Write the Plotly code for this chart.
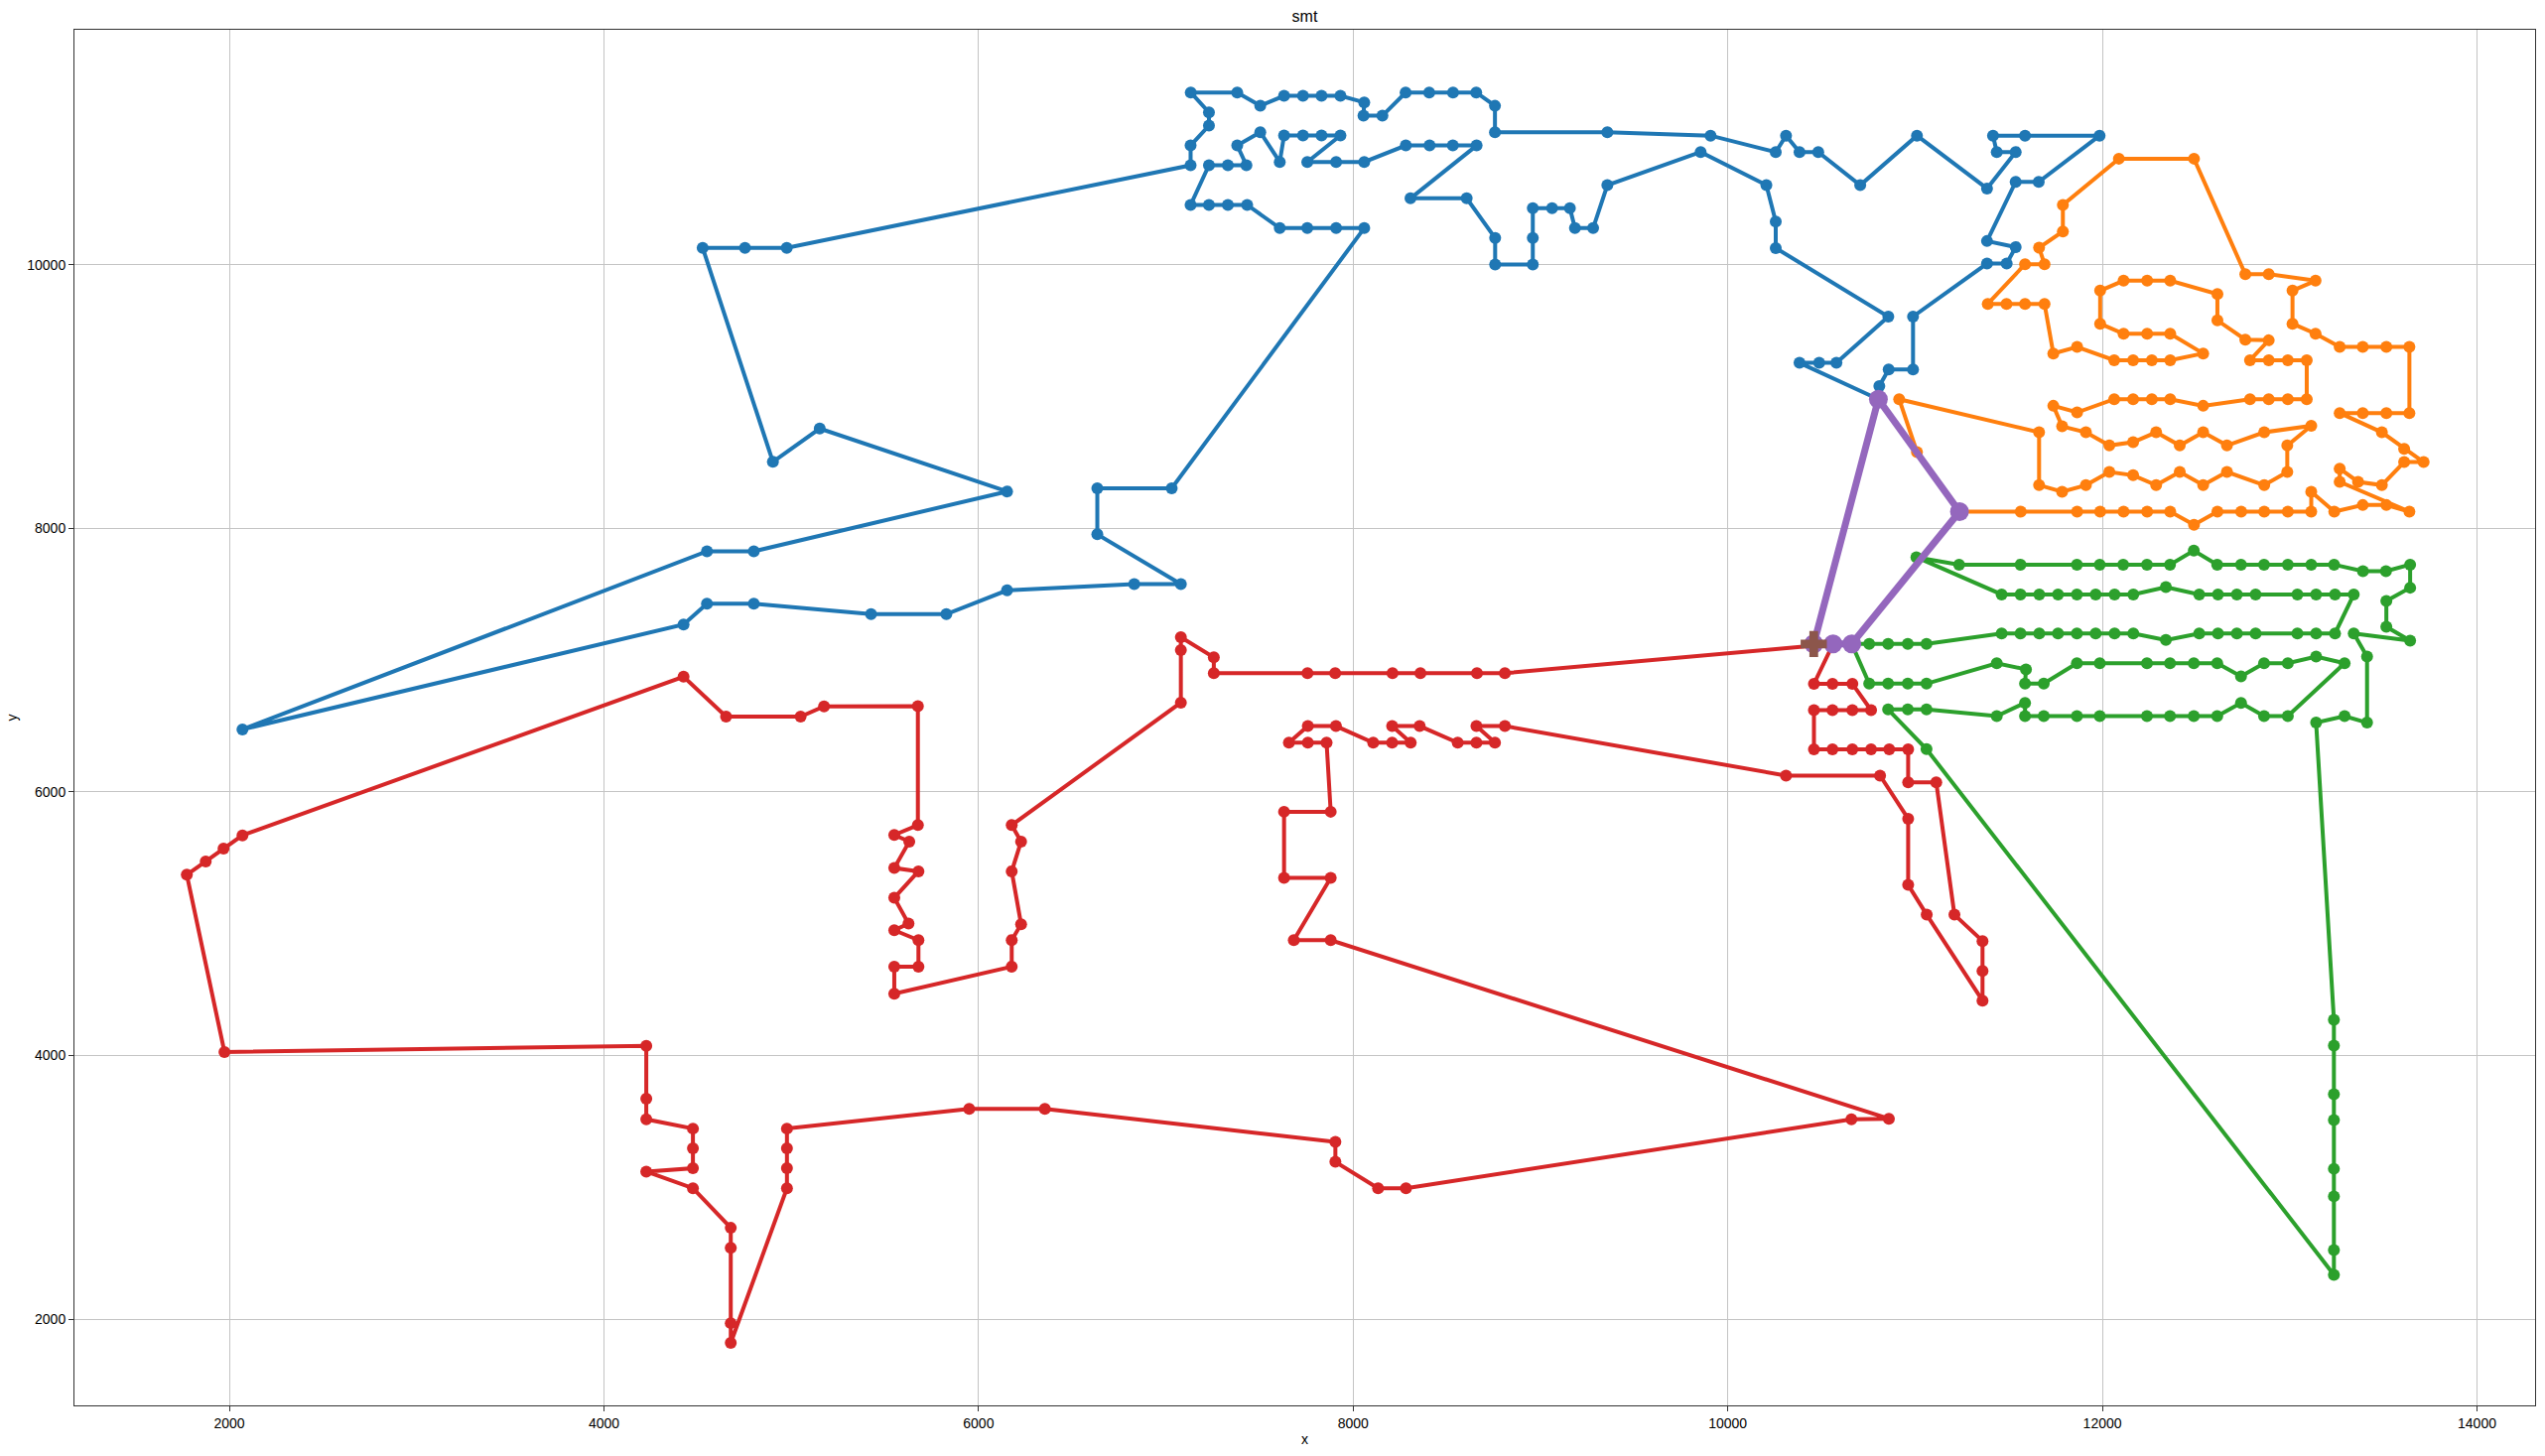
import plotly.graph_objects as go

# ---- data ----
blue_x = [10804, 10809, 10859, 10989, 10989, 11384, 11489, 11537, 11384, 11537, 11660, 11985, 11587, 11416, 11436, 11537,
          11384, 11010, 10707, 10483, 10383, 10311, 10256, 9908, 9357, 8757, 8757, 8657, 8533, 8406, 8280, 8156, 8055, 8059,
          7932, 7831, 7732, 7631, 7504, 7381, 7133, 7230, 7230, 7132, 7132, 4976, 4753, 4527, 4902, 5152, 6152, 4800, 4550,
          2070, 4425, 4550, 4800, 5426, 5828, 6152, 6831, 7080, 6634, 6634, 7031, 8059, 7909, 7755, 7608, 7434, 7331, 7230,
          7132, 7230, 7331, 7430, 7381, 7504, 7608, 7631, 7732, 7831, 7932, 7755, 7909, 8059, 8281, 8408, 8532, 8659, 8306,
          8606, 8758, 8758, 8959, 8959, 8959, 9062, 9157, 9184, 9281, 9357, 9855, 10206, 10256, 10256, 10857, 10580, 10488,
          10383, 10804]
blue_y = [8979, 9079, 9205, 9205, 9606, 10008, 10008, 10133, 10179, 10628, 10628, 10979, 10979, 10979, 10854, 10854,
          10578, 10979, 10603, 10854, 10854, 10979, 10854, 10979, 11004, 11004, 11205, 11306, 11306, 11306, 11306, 11130,
          11130, 11231, 11281, 11281, 11281, 11281, 11206, 11306, 11306, 11155, 11055, 10904, 10754, 10128, 10128, 10128,
          8504, 8756, 8279, 7825, 7825, 6474, 7270, 7428, 7428, 7348, 7348, 7529, 7577, 7577, 7954, 8303, 8303, 10277,
          10277, 10277, 10277, 10453, 10453, 10453, 10453, 10754, 10754, 10754, 10904, 11005, 10779, 10980, 10980, 10980,
          10980, 10779, 10779, 10779, 10904, 10904, 10904, 10904, 10503, 10503, 10202, 10001, 10001, 10202, 10428, 10428,
          10428, 10277, 10277, 10603, 10854, 10603, 10327, 10126, 9606, 9255, 9255, 9255, 8979]

orange_x = [11237, 11010, 10915, 11662, 11662, 11785, 11912, 12037, 12164, 12287, 12413, 12538, 12665, 12864, 12987,
            12987, 13115, 12864, 12665, 12538, 12413, 12287, 12164, 12037, 11912, 11785, 11738, 11865, 12063, 12164,
            12264, 12362, 12538, 12788, 12888, 12990, 13091, 13091, 12990, 12888, 12788, 12888, 12763, 12614, 12614,
            12362, 12239, 12113, 11988, 11988, 12113, 12239, 12362, 12538, 12362, 12264, 12164, 12063, 11865, 11738,
            11691, 11587, 11488, 11388, 11587, 11691, 11662, 11789, 11789, 12088, 12489, 12763, 12888, 13138, 13015,
            13015, 13138, 13267, 13390, 13516, 13639, 13639, 13516, 13390, 13267, 13492, 13611, 13715, 13611, 13492,
            13365, 13267, 13267, 13639, 13516, 13390, 13238, 13115, 13115, 12990, 12864, 12741, 12614, 12489, 12362,
            12239, 12113, 11988, 11865, 11564, 11237]
orange_y = [8126, 8578, 8979, 8728, 8327, 8277, 8327, 8427, 8402, 8327, 8427, 8327, 8427, 8327, 8427,
            8628, 8778, 8728, 8628, 8728, 8628, 8728, 8653, 8628, 8728, 8773, 8929, 8879, 8979, 8979,
            8979, 8979, 8929, 8979, 8979, 8979, 8979, 9275, 9275, 9275, 9275, 9426, 9431, 9577, 9777,
            9878, 9878, 9878, 9803, 9552, 9476, 9476, 9476, 9326, 9275, 9275, 9275, 9275, 9376, 9326,
            9702, 9702, 9702, 9702, 10003, 10003, 10129, 10252, 10453, 10804, 10804, 9928, 9928, 9878, 9803,
            9552, 9476, 9376, 9376, 9376, 9376, 8874, 8874, 8874, 8874, 8728, 8603, 8502, 8502, 8327,
            8352, 8452, 8352, 8126, 8176, 8176, 8126, 8277, 8126, 8126, 8126, 8126, 8126, 8026, 8126,
            8126, 8126, 8126, 8126, 8126, 8126]

green_x = [10662, 10755, 10856, 10961, 11061, 11462, 11563, 11663, 11763, 11864, 11964, 12065, 12165, 12339, 12517,
           12617, 12718, 12818, 13041, 13141, 13242, 13342, 13242, 13141, 13041, 12818, 12718, 12617, 12517, 12339,
           12165, 12065, 11964, 11864, 11763, 11663, 11563, 11462, 11007, 11235, 11563, 11864, 11986, 12111, 12238,
           12361, 12488, 12613, 12740, 12863, 12990, 13115, 13237, 13391, 13514, 13643, 13643, 13516, 13516, 13643,
           13342, 13413, 13413, 13293, 13141, 13236, 13236, 13236, 13236, 13236, 13236, 13236, 13236, 11061, 10856,
           10961, 11061, 11436, 11587, 11587, 11687, 11864, 11986, 12238, 12361, 12488, 12613, 12740, 12863, 12990,
           13293, 13141, 12990, 12863, 12740, 12613, 12488, 12361, 12238, 11986, 11864, 11687, 11587, 11592, 11436,
           11061, 10961, 10856, 10755, 10662]
green_y = [7122, 7122, 7122, 7122, 7122, 7202, 7202, 7202, 7202, 7202, 7202, 7202, 7202, 7152, 7202,
           7202, 7202, 7202, 7202, 7202, 7202, 7498, 7498, 7498, 7498, 7498, 7498, 7498, 7498, 7554,
           7498, 7498, 7498, 7498, 7498, 7498, 7498, 7498, 7780, 7724, 7724, 7724, 7724, 7724, 7724,
           7724, 7830, 7724, 7724, 7724, 7724, 7724, 7724, 7674, 7674, 7724, 7549, 7448, 7252, 7147,
           7202, 7027, 6525, 6575, 6525, 4271, 4074, 3705, 3510, 3140, 2931, 2524, 2336, 6324, 6625,
           6625, 6625, 6575, 6675, 6575, 6575, 6575, 6575, 6575, 6575, 6575, 6575, 6675, 6575, 6575,
           6976, 7027, 6976, 6976, 6876, 6976, 6976, 6976, 6976, 6976, 6976, 6821, 6821, 6929, 6976,
           6821, 6821, 6821, 6821, 7122]

red_x = [10562, 10460, 10559, 10665, 10765, 10665, 10559, 10460, 10460, 10559, 10665, 10765, 10862, 10963, 10963,
         11113, 11210, 11360, 11360, 11360, 11062, 10963, 10963, 10813, 10311, 8810, 8658, 8757, 8658, 8558, 8355,
         8208, 8307, 8208, 8107, 7908, 7758, 7657, 7758, 7858, 7880, 7631, 7631, 7880, 7683, 7880, 10860, 10660,
         8282, 8133, 7905, 7905, 6354, 5950, 4977, 4977, 4977, 4977, 4677, 4677, 4677, 4677, 4475, 4226, 4475,
         4475, 4475, 4226, 4226, 4226, 1974, 1773, 1874, 1969, 2070, 4425, 4652, 5050, 5175, 5676, 5676, 5550,
         5630, 5550, 5679, 5550, 5626, 5550, 5679, 5679, 5550, 5550, 6177, 6177, 6227, 6177, 6227, 6177, 7080,
         7080, 7080, 7256, 7256, 7756, 7904, 8210, 8359, 8661, 8810, 10562]
red_y = [7122, 6820, 6820, 6820, 6620, 6620, 6620, 6620, 6323, 6323, 6323, 6323, 6323, 6323, 6072,
         6072, 5068, 4868, 4642, 4416, 5068, 5294, 5796, 6123, 6123, 6499, 6499, 6373, 6373, 6373, 6499,
         6499, 6373, 6373, 6373, 6499, 6499, 6373, 6373, 6373, 5849, 5849, 5347, 5347, 4875, 4875, 3520, 3515,
         2993, 2993, 3193, 3344, 3595, 3595, 3445, 3295, 3144, 2993, 1819, 1969, 2541, 2692, 2993, 3119, 3144,
         3295, 3445, 3515, 3671, 4073, 4026, 5371, 5472, 5569, 5670, 6874, 6571, 6571, 6648, 6650, 5748, 5673,
         5623, 5422, 5397, 5196, 5001, 4950, 4875, 4674, 4674, 4468, 4674, 4875, 4996, 5397, 5623, 5748, 6677,
         7075, 7174, 7021, 6900, 6900, 6900, 6900, 6900, 6900, 6900, 7122]

purple_x = [10459, 10804, 11237, 10662, 10562, 10459]
purple_y = [7122, 8979, 8126, 7122, 7122, 7122]

depot_x = [10459]
depot_y = [7122]

x_ticks = [2000, 4000, 6000, 8000, 10000, 12000, 14000]
y_ticks = [2000, 4000, 6000, 8000, 10000]

# ---- figure ----
fig = go.Figure()
routes = [
    (blue_x, blue_y, "#1f77b4"),
    (orange_x, orange_y, "#ff7f0e"),
    (green_x, green_y, "#2ca02c"),
    (red_x, red_y, "#d62728"),
]
for xs, ys, col in routes:
    fig.add_trace(go.Scatter(x=xs, y=ys, mode="lines+markers",
                             line=dict(color=col, width=4),
                             marker=dict(color=col, size=12),
                             showlegend=False, hoverinfo="x+y"))

fig.add_trace(go.Scatter(x=purple_x, y=purple_y, mode="lines+markers",
                         line=dict(color="#9467bd", width=7),
                         marker=dict(color="#9467bd", size=19),
                         showlegend=False))
fig.add_trace(go.Scatter(x=depot_x, y=depot_y, mode="markers",
                         marker=dict(color="#8c564b", size=22, symbol="cross"),
                         showlegend=False))

font_family = "Liberation Sans, Arial, Helvetica, sans-serif"
fig.update_layout(
    width=2564, height=1467,
    margin=dict(l=75, r=10, t=30, b=51),
    paper_bgcolor="white", plot_bgcolor="white",
    font=dict(family=font_family, size=14, color="black"),
    title=dict(text="smt", x=0.5, xref="paper", y=1 - 16 / 1467, yref="container",
               xanchor="center", yanchor="middle", font=dict(size=16, color="black")),
)
axis_common = dict(showgrid=True, gridcolor="#c4c4c4", gridwidth=1, zeroline=False,
                   showline=True, mirror=True, linecolor="#333333", linewidth=1,
                   ticks="outside", ticklen=5, tickcolor="#333333",
                   tickfont=dict(size=14, color="black"))
fig.update_xaxes(range=[1173, 14310], tickvals=x_ticks, ticktext=[str(v) for v in x_ticks],
                 title=dict(text="x", standoff=4, font=dict(size=14)), **axis_common)
fig.update_yaxes(range=[1345, 11782], tickvals=y_ticks, ticktext=[str(v) for v in y_ticks],
                 title=dict(text="y", standoff=6, font=dict(size=14)), **axis_common)

fig.write_html("out.html")
